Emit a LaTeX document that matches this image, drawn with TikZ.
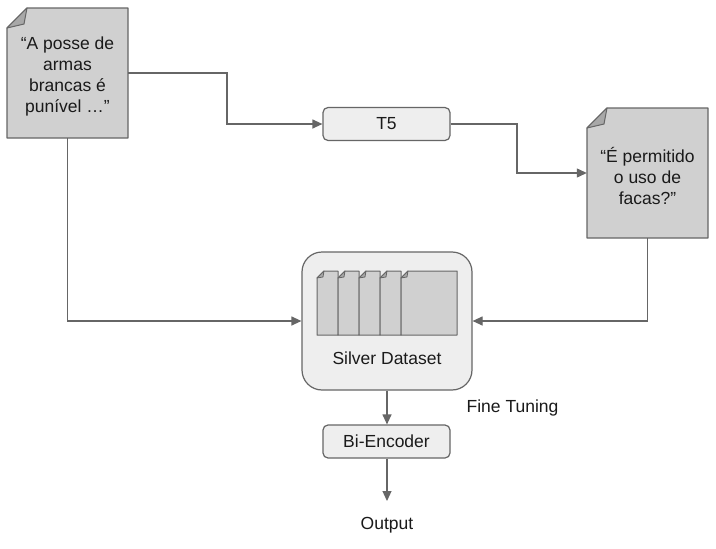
\documentclass[tikz,border=0pt]{standalone}
\usepackage{fontspec}
\setmainfont{Liberation Sans}
\usetikzlibrary{arrows.meta,backgrounds,calc}
\definecolor{docfill}{HTML}{D0D0D0}
\definecolor{foldfill}{HTML}{A8A8A8}
\definecolor{boxfill}{HTML}{EEEEEE}
\definecolor{strk}{HTML}{666666}
\definecolor{txt}{HTML}{1A1A1A}
\tikzset{
  lbl/.style={font=\fontsize{17.5}{21}\selectfont, text=txt, align=center, inner sep=0pt},
  docshape/.style={draw=strk, fill=docfill, line width=1.2pt, line join=round},
  foldshape/.style={draw=strk, fill=foldfill, line width=1pt, line join=round},
  rbox/.style={lbl, draw=strk, fill=boxfill, line width=1.2pt, rounded corners=5pt, minimum width=127pt, minimum height=33pt},
  conn/.style={draw=strk, line width=1.2pt, -{Triangle[length=10pt,width=9pt]}},
}
\begin{document}
\begin{tikzpicture}[x=1pt,y=-1pt]
\useasboundingbox[fill=white] (0,0) rectangle (716,549);
% documents
\coordinate (d1nw) at (7,8);
\coordinate (d1se) at (128,138);
\coordinate (d2nw) at (587,108);
\coordinate (d2se) at (708,238);
\draw[docshape] (27,8) -- (128,8) -- (128,138) -- (7,138) -- (7,28) -- cycle;
\draw[foldshape] (7,28) -- (27,8) -- (24,24) -- cycle;
\draw[docshape] (607,108) -- (708,108) -- (708,238) -- (587,238) -- (587,128) -- cycle;
\draw[foldshape] (587,128) -- (607,108) -- (604,124) -- cycle;
\path (d1nw) rectangle (d1se);
\node[minimum width=121pt, minimum height=130pt, inner sep=0pt] (d1) at (67.5,73) {};
\node[minimum width=121pt, minimum height=130pt, inner sep=0pt] (d2) at (647.5,173) {};
\node[lbl] (d1t) at (67.5,76) {“A posse de\\armas\\brancas é\\punível …”};
\node[lbl] (d2t) at (647.5,176) {“É permitido\\o uso de\\facas?”};
% T5
\node[rbox] (t5) at (386.5,124) {T5};
% Silver dataset
\node[draw=strk, fill=boxfill, line width=1.2pt, rounded corners=20pt, minimum width=170pt, minimum height=138pt, inner sep=0pt] (sd) at (387,321) {};
\foreach \px/\pw in {317/21,338/21,359/21,380/21,401/56}{
  \draw[docshape, line width=1pt] (\px+7,271) -- (\px+\pw,271) -- (\px+\pw,335) -- (\px,335) -- (\px,278) -- cycle;
  \draw[foldshape, line width=0.8pt] (\px,278) -- (\px+7,271) -- (\px+6,277) -- cycle;
}
\node[lbl] (sdt) at (387,358) {Silver Dataset};
% Bi-Encoder
\node[rbox] (be) at (386.5,441.5) {Bi-Encoder};
\node[lbl] (out) at (387,525) {Output};
\node[lbl] (ft) at (512.5,408) {Fine Tuning};
\coordinate (outtip) at (387,501);
% connectors
\draw[conn] (d1.east) -| (227,124) -- (t5.west);
\draw[conn] (t5.east) -| (517,173) -- (d2.west);
\draw[conn] (d1.south) |- (sd.west);
\draw[conn] (d2.south) |- (sd.east);
\draw[conn] (sd.south) -- (be.north -| sd.south);
\draw[conn] (be.south -| outtip) -- (outtip);
\end{tikzpicture}
\end{document}
